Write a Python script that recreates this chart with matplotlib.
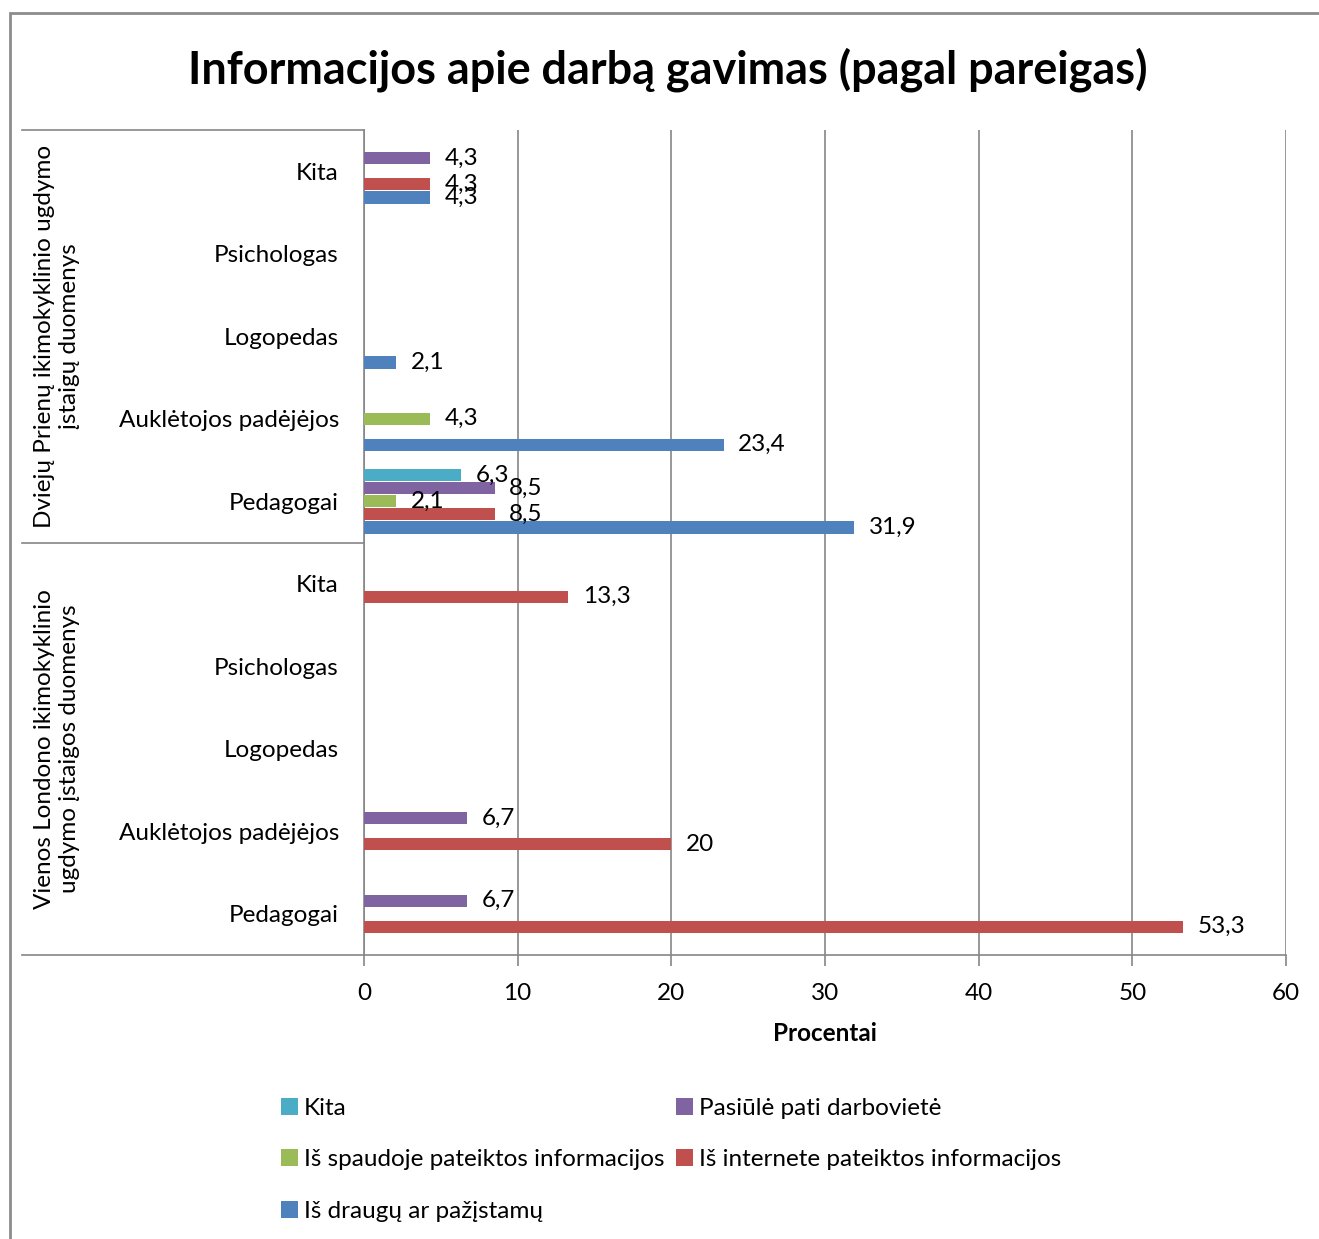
import matplotlib
matplotlib.use("Agg")
import matplotlib.pyplot as plt
from matplotlib.patches import Rectangle, Patch
from matplotlib.lines import Line2D

plt.rcParams['font.family'] = ['Lato', 'DejaVu Sans']

# Role categories within each group (bottom to top)
roles = ["Pedagogai", "Auklėtojos padėjėjos", "Logopedas", "Psichologas", "Kita"]
group_names = ["Vienos Londono ikimokyklinio\nugdymo įstaigos duomenys",
               "Dviejų Prienų ikimokyklinio ugdymo\nįstaigų duomenys"]

series_names = ["Iš draugų ar pažįstamų",
                "Iš internete pateiktos informacijos",
                "Iš spaudoje pateiktos informacijos",
                "Pasiūlė pati darbovietė",
                "Kita"]
series_colors = ["#4F81BD", "#C0504D", "#9BBB59", "#8064A2", "#4BACC6"]

# Percentages per role (Pedagogai .. Kita); 0 = no answers
draugai_london = [0, 0, 0, 0, 0]
internetas_london = [53.3, 20, 0, 0, 13.3]
spauda_london = [0, 0, 0, 0, 0]
darboviete_london = [6.7, 6.7, 0, 0, 0]
kita_london = [0, 0, 0, 0, 0]

draugai_prienai = [31.9, 23.4, 2.1, 0, 4.3]
internetas_prienai = [8.5, 0, 0, 0, 4.3]
spauda_prienai = [2.1, 4.3, 0, 0, 0]
darboviete_prienai = [8.5, 0, 0, 0, 4.3]
kita_prienai = [6.3, 0, 0, 0, 0]

series_values = [
    draugai_london + draugai_prienai,
    internetas_london + internetas_prienai,
    spauda_london + spauda_prienai,
    darboviete_london + darboviete_prienai,
    kita_london + kita_prienai,
]
category_labels = roles + roles
x_ticks = [0, 10, 20, 30, 40, 50, 60]

W, H = 1319, 1239
fig = plt.figure(figsize=(W / 100, H / 100), dpi=100)
ax = fig.add_axes([364 / W, 1 - 955 / H, (1286 - 364) / W, (955 - 130) / H])

grey = "#868686"
fs = 17.5
step = 0.158
bar_h = 0.15

for si, (vals, color) in enumerate(zip(series_values, series_colors)):
    for ci, v in enumerate(vals):
        if not v:
            continue
        y = ci + (si - 2) * step
        ax.barh(y, v, height=bar_h, color=color, edgecolor="none", zorder=3)
        ax.annotate(f"{v:g}".replace(".", ","), xy=(v, y), xytext=(10.5, 0),
                    textcoords="offset points", ha="left", va="center",
                    fontsize=fs, color="#000000", zorder=4)

ax.set_xlim(0, 60)
ax.set_ylim(-0.5, len(category_labels) - 0.5)
ax.set_xticks(x_ticks)
ax.set_xticklabels([str(t) for t in x_ticks], fontsize=fs)
ax.set_yticks(range(len(category_labels)))
ax.set_yticklabels(category_labels, fontsize=fs)
ax.tick_params(axis="y", length=0, pad=18)
ax.tick_params(axis="x", length=8, width=1.2, color=grey, pad=12, direction="out")
ax.xaxis.grid(True, color=grey, linewidth=1.2, zorder=0)
ax.set_axisbelow(True)
for side in ["top", "right"]:
    ax.spines[side].set_visible(False)
for side in ["left", "bottom"]:
    ax.spines[side].set_color(grey)
    ax.spines[side].set_linewidth(1.2)

ax.set_xlabel("Procentai", fontsize=fs, fontweight="bold", labelpad=13)

# Multi-level category axis: box lines and group names
x_left = (22 - 364) / (1286 - 364)
for yy in [0, 0.5, 1.0]:
    ax.add_line(Line2D([x_left, 0], [yy, yy], transform=ax.transAxes,
                       color=grey, linewidth=1.2, clip_on=False))
x_grp = (57 - 364) / (1286 - 364)
ax.text(x_grp, 0.25, group_names[0], transform=ax.transAxes, rotation=90,
        ha="center", va="center", multialignment="center", fontsize=fs,
        linespacing=1.2)
ax.text(x_grp, 0.75, group_names[1], transform=ax.transAxes, rotation=90,
        ha="center", va="center", multialignment="center", fontsize=fs,
        linespacing=1.2)

fig.text(668 / W, 1 - 70 / H, "Informacijos apie darbą gavimas (pagal pareigas)",
         ha="center", va="center", fontsize=32.4, fontweight="bold")

# Outer chart border
fig.add_artist(Rectangle((10 / W, -0.1), 1.2, 1 - 13 / H + 0.1,
                         transform=fig.transFigure, fill=False,
                         edgecolor="#8C8C8C", linewidth=2))

# Legend, filled row by row in two columns
order = [4, 2, 0, 3, 1]
handles = [Patch(facecolor=series_colors[i], edgecolor="none", label=series_names[i])
           for i in order]
fig.legend(handles=handles, ncol=2, loc="upper left",
           bbox_to_anchor=(281 / W, 1 - 1098 / H), frameon=False,
           fontsize=fs, handlelength=0.7, handleheight=0.7,
           handletextpad=0.25, columnspacing=0.45, labelspacing=1.25,
           borderpad=0, borderaxespad=0)

fig.savefig("out.png", dpi=100, facecolor="white")
